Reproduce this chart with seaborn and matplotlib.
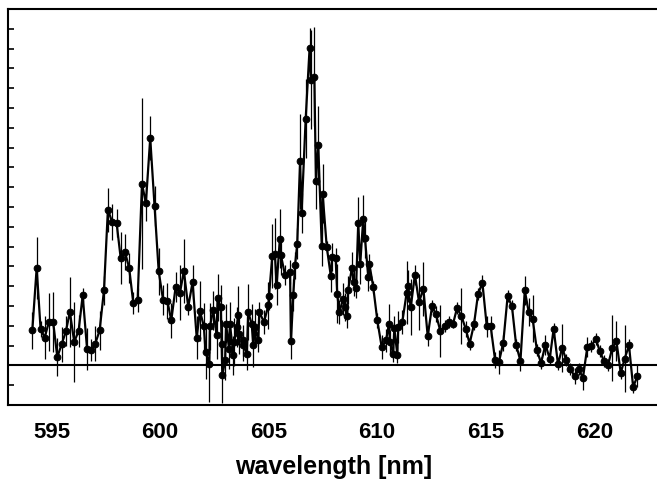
import matplotlib
matplotlib.use("Agg")
import matplotlib.pyplot as plt
from matplotlib.ticker import MultipleLocator, NullFormatter
import seaborn as sns
import pandas as pd

# --- data ---
wavelength = [
    594.12, 594.32, 594.50, 594.69, 594.88, 595.08, 595.27, 595.47, 595.67, 595.85,
    596.05, 596.25, 596.44, 596.64, 596.83, 597.02, 597.22, 597.42, 597.60, 597.80,
    598.00, 598.19, 598.39, 598.58, 598.77, 598.97, 599.17, 599.35, 599.55, 599.75,
    599.94, 600.14, 600.34, 600.52, 600.72, 600.92, 601.10, 601.30, 601.50, 601.69,
    601.84, 602.02, 602.10, 602.27, 602.30, 602.45, 602.61, 602.65, 602.80, 602.84,
    602.87, 603.00, 603.04, 603.18, 603.22, 603.38, 603.42, 603.53, 603.60, 603.64,
    603.81, 603.83, 604.00, 604.06, 604.22, 604.30, 604.37, 604.53, 604.57, 604.79,
    604.99, 605.02, 605.17, 605.29, 605.37, 605.52, 605.57, 605.76, 605.99, 606.03,
    606.14, 606.22, 606.32, 606.45, 606.52, 606.71, 606.89, 606.95, 607.11, 607.18,
    607.29, 607.45, 607.49, 607.68, 607.87, 607.93, 608.09, 608.16, 608.26, 608.44,
    608.52, 608.62, 608.66, 608.84, 608.93, 609.03, 609.13, 609.22, 609.36, 609.44,
    609.59, 609.64, 609.82, 610.01, 610.21, 610.41, 610.55, 610.59, 610.74, 610.79,
    610.93, 610.97, 611.16, 611.36, 611.40, 611.55, 611.74, 611.93, 612.13, 612.33,
    612.53, 612.71, 612.91, 613.11, 613.29, 613.49, 613.68, 613.88, 614.08, 614.26,
    614.46, 614.65, 614.85, 615.05, 615.23, 615.43, 615.61, 615.81, 616.01, 616.21,
    616.40, 616.60, 616.80, 616.98, 617.16, 617.36, 617.55, 617.75, 617.95, 618.13,
    618.33, 618.52, 618.71, 618.90, 619.10, 619.28, 619.48, 619.68, 619.87, 620.07,
    620.25, 620.45, 620.63, 620.83, 621.02, 621.22, 621.40, 621.60, 621.79, 621.99,
]
intensity = [
    1.77, 4.92, 1.85, 1.40, 2.19, 2.19, 0.42, 1.06, 1.74, 2.70,
    1.18, 1.74, 3.54, 0.84, 0.76, 1.10, 1.77, 3.79, 7.86, 7.24,
    7.20, 5.42, 5.72, 4.92, 3.15, 3.32, 9.18, 8.20, 11.48, 8.05,
    4.75, 3.32, 3.25, 2.27, 3.96, 3.67, 4.77, 2.95, 4.21, 1.40,
    2.75, 1.97, 0.68, 0.05, 1.97, 2.78, 1.52, 3.42, 2.95, 1.10,
    -0.51, 0.25, 2.11, 0.84, 2.11, 0.51, 1.18, 1.94, 2.53, 1.60,
    1.26, 1.01, 0.59, 2.70, 2.11, 1.01, 1.94, 1.26, 2.70, 2.19,
    3.03, 3.50, 5.52, 5.64, 4.04, 6.40, 5.56, 4.55, 4.72, 1.21,
    3.57, 5.05, 6.15, 10.30, 7.70, 12.46, 16.03, 14.43, 14.57, 9.29,
    11.11, 6.01, 8.67, 5.98, 4.49, 5.47, 5.42, 3.62, 2.70, 3.37,
    2.95, 2.47, 3.79, 4.92, 4.21, 3.91, 7.21, 5.10, 7.41, 6.43,
    4.46, 5.14, 3.96, 2.27, 0.93, 1.26, 2.11, 1.18, 0.59, 1.89,
    0.54, 1.94, 2.19, 3.67, 4.01, 2.95, 4.58, 3.20, 3.87, 1.47,
    3.00, 2.58, 1.74, 1.97, 2.19, 2.07, 2.90, 2.49, 1.85, 1.10,
    2.07, 3.62, 4.16, 1.97, 1.97, 0.29, 0.17, 1.15, 3.50, 2.98,
    1.05, 0.22, 3.79, 2.70, 2.36, 0.76, 0.12, 1.05, 0.34, 1.85,
    0.05, 0.88, 0.29, -0.20, -0.54, -0.20, -0.62, 0.93, 0.98, 1.35,
    0.73, 0.22, 0.00, 0.88, 1.23, -0.39, 0.34, 1.01, -1.09, -0.54,
]
error = [
    0.93, 1.56, 0.40, 1.10, 1.47, 1.50, 0.97, 0.90, 0.75, 1.77,
    2.00, 0.80, 0.35, 1.05, 0.55, 0.90, 0.97, 0.75, 1.10, 0.90,
    0.70, 1.30, 0.90, 0.75, 0.55, 0.60, 4.30, 0.90, 1.10, 1.00,
    1.20, 0.75, 0.90, 0.90, 0.75, 1.40, 1.60, 0.40, 0.85, 1.10,
    1.50, 1.20, 1.35, 1.90, 1.20, 1.00, 1.20, 1.20, 1.10, 1.20,
    1.40, 1.00, 1.00, 1.00, 1.10, 1.00, 1.20, 1.00, 1.50, 1.00,
    0.80, 0.80, 0.80, 1.40, 1.00, 1.10, 0.90, 0.60, 0.50, 0.60,
    1.20, 0.70, 1.60, 1.80, 1.00, 1.50, 1.00, 0.50, 0.60, 0.90,
    0.80, 0.70, 0.80, 2.40, 1.00, 2.00, 1.00, 2.50, 2.50, 1.40,
    2.00, 1.00, 1.50, 0.30, 0.80, 0.70, 0.50, 1.50, 0.60, 0.80,
    0.70, 0.60, 0.70, 0.80, 0.70, 0.50, 1.30, 1.00, 1.20, 1.00,
    0.70, 0.50, 0.30, 0.40, 0.60, 0.60, 1.00, 0.60, 0.40, 0.60,
    0.40, 0.80, 0.60, 1.60, 0.80, 1.40, 0.50, 1.40, 1.35, 0.50,
    0.30, 0.40, 1.30, 0.30, 0.30, 0.20, 0.30, 1.40, 0.40, 0.30,
    0.30, 0.30, 0.40, 0.55, 0.55, 0.40, 0.60, 0.40, 0.30, 0.30,
    0.30, 0.50, 0.75, 0.70, 1.20, 0.30, 0.30, 0.50, 0.30, 0.30,
    0.30, 1.20, 0.30, 0.30, 0.40, 0.30, 0.60, 0.50, 0.30, 0.30,
    0.30, 0.30, 0.30, 1.65, 1.00, 0.30, 1.70, 0.30, 0.30, 0.55,
]

x_ticks = [595, 600, 605, 610, 615, 620]
x_label = "wavelength [nm]"

df = pd.DataFrame({"wl": wavelength, "I": intensity, "err": error})

sns.set_style("white")
plt.rcParams["font.family"] = ["Liberation Sans", "DejaVu Sans"]

fig = plt.figure(figsize=(6.57, 4.85), dpi=100)
ax = fig.add_axes([8 / 657, 1 - 406 / 485, 651.4 / 657, 396 / 485])

# error bars first, then the connected points on top
ax.errorbar(df["wl"], df["I"], yerr=df["err"], fmt="none",
            ecolor="black", elinewidth=0.9, capsize=0, zorder=2)
sns.lineplot(data=df, x="wl", y="I", ax=ax, color="black", linewidth=1.6,
             marker="o", markersize=4.8, markeredgecolor="black",
             estimator=None, sort=True, zorder=3)
ax.axhline(0, color="black", linewidth=1.5, zorder=1)

ax.set_xlim(593, 623)
ax.set_ylim(-2, 18)

ax.xaxis.set_major_locator(plt.FixedLocator(x_ticks))
ax.xaxis.set_minor_locator(MultipleLocator(1))
ax.yaxis.set_major_locator(MultipleLocator(1))
ax.yaxis.set_major_formatter(NullFormatter())

ax.tick_params(axis="x", which="major", direction="out", length=7.5, width=1.2,
               labelsize=16, pad=4, colors="black")
ax.tick_params(axis="x", which="minor", direction="out", length=4.5, width=1.2,
               colors="black")
ax.tick_params(axis="y", which="major", direction="in", length=4, width=1.2,
               left=True, right=False, colors="black")
for lbl in ax.get_xticklabels():
    lbl.set_fontweight("bold")

ax.set_xlabel(x_label, fontsize=18, fontweight="bold", labelpad=9, color="black")
ax.set_ylabel("")

for side in ["left", "bottom", "top"]:
    ax.spines[side].set_color("black")
    ax.spines[side].set_linewidth(1.5)
ax.spines["right"].set_visible(False)

fig.savefig("out.png", dpi=100)
